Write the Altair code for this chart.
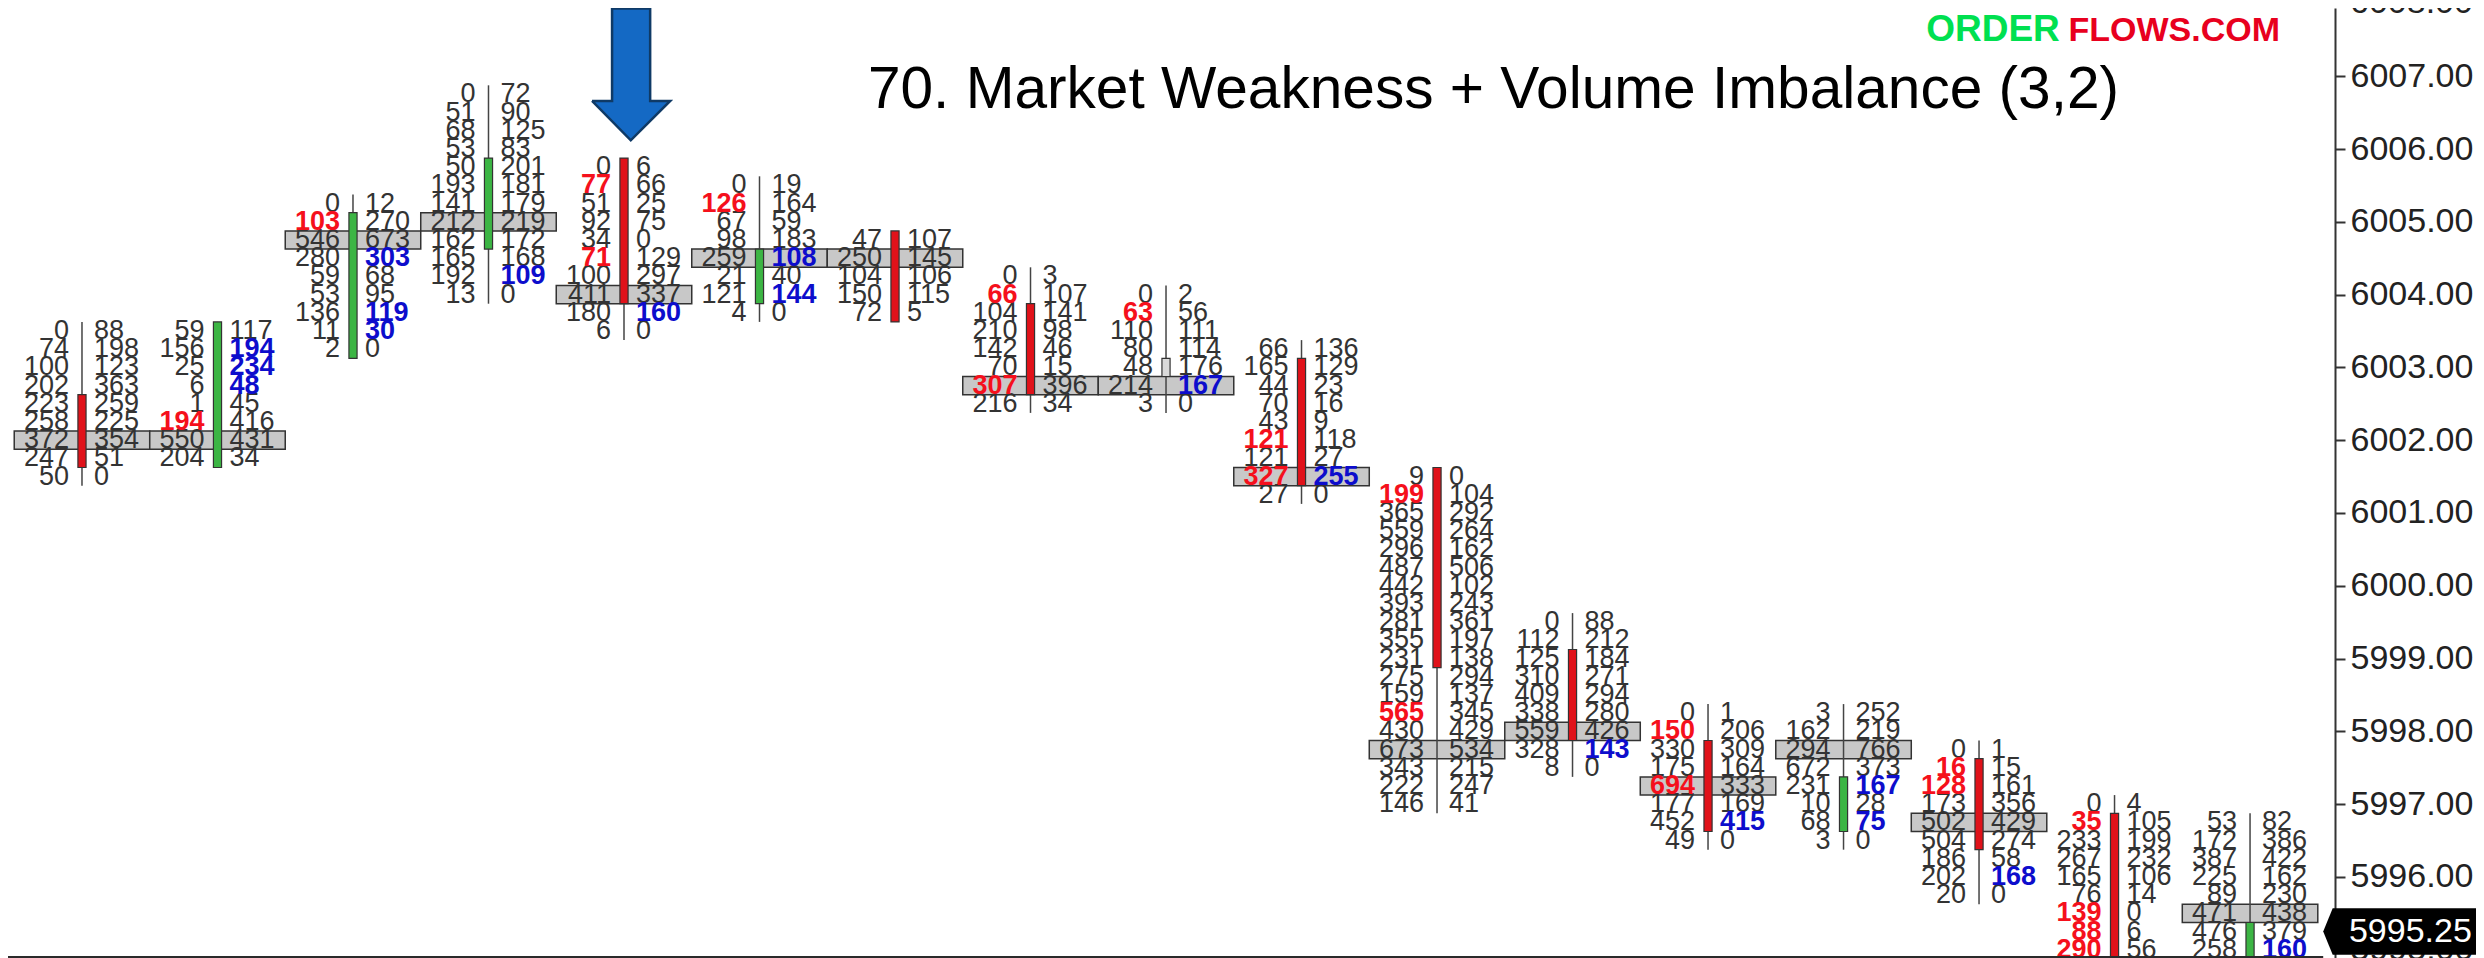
import altair as alt
import pandas as pd

alt.data_transformers.disable_max_rows()

# ---- footprint bars ----
tops = [6003.50, 6003.50, 6005.25, 6006.75, 6005.75, 6005.50, 6004.75, 6004.25, 6004.00,
        6003.25, 6001.50, 5999.50, 5998.25, 5998.25, 5997.75, 5997.00, 5996.75]
bids = [
    [0, 74, 100, 202, 223, 258, 372, 247, 50],
    [59, 156, 25, 6, 1, 194, 550, 204],
    [0, 103, 546, 280, 59, 53, 136, 11, 2],
    [0, 51, 68, 53, 50, 193, 141, 212, 162, 165, 192, 13],
    [0, 77, 51, 92, 34, 71, 100, 411, 180, 6],
    [0, 126, 67, 98, 259, 21, 121, 4],
    [47, 250, 104, 150, 72],
    [0, 66, 104, 210, 142, 70, 307, 216],
    [0, 63, 110, 80, 48, 214, 3],
    [66, 165, 44, 70, 43, 121, 121, 327, 27],
    [9, 199, 365, 559, 296, 487, 442, 393, 281, 355, 231, 275, 159, 565, 430, 673, 343, 222, 146],
    [0, 112, 125, 310, 409, 338, 559, 328, 8],
    [0, 150, 330, 175, 694, 177, 452, 49],
    [3, 162, 294, 672, 231, 10, 68, 3],
    [0, 16, 128, 173, 502, 504, 186, 202, 20],
    [0, 35, 233, 267, 165, 76, 139, 88, 290],
    [53, 172, 387, 225, 89, 471, 476, 258],
]
asks = [
    [88, 198, 123, 363, 259, 225, 354, 51, 0],
    [117, 194, 234, 48, 45, 416, 431, 34],
    [12, 270, 673, 303, 68, 95, 119, 30, 0],
    [72, 90, 125, 83, 201, 181, 179, 219, 172, 168, 109, 0],
    [6, 66, 25, 75, 0, 129, 297, 337, 160, 0],
    [19, 164, 59, 183, 108, 40, 144, 0],
    [107, 145, 106, 115, 5],
    [3, 107, 141, 98, 46, 15, 396, 34],
    [2, 56, 111, 114, 176, 167, 0],
    [136, 129, 23, 16, 9, 118, 27, 255, 0],
    [0, 104, 292, 264, 162, 506, 102, 243, 361, 197, 138, 294, 137, 345, 429, 534, 215, 247, 41],
    [88, 212, 184, 271, 294, 280, 426, 143, 0],
    [1, 206, 309, 164, 333, 169, 415, 0],
    [252, 219, 766, 373, 167, 28, 75, 0],
    [1, 15, 161, 356, 429, 274, 58, 168, 0],
    [4, 105, 199, 232, 106, 14, 0, 6, 56],
    [82, 386, 422, 162, 230, 438, 379, 160],
]
red_rows = [[], [5], [1], [], [1, 5], [1], [], [1, 6], [1], [5, 7], [1, 13], [], [1, 4], [], [1, 2], [1, 6, 7, 8], []]
blue_rows = [[], [1, 2, 3], [3, 6, 7], [10], [8], [4, 6], [], [], [5], [7], [], [7], [6], [4, 6], [7], [], [7]]
poc_prices = [6002.00, 6002.00, 6004.75, 6005.00, 6004.00, 6004.50, 6004.50, 6002.75, 6002.75,
              6001.50, 5997.75, 5998.00, 5997.25, 5997.75, 5996.75, None, 5995.50]
body_tops = [6002.50, 6003.50, 6005.00, 6005.75, 6005.75, 6004.50, 6004.75, 6003.75, 6003.00,
             6003.00, 6001.50, 5999.00, 5997.75, 5997.25, 5997.50, 5996.75, 5995.25]
body_bottoms = [6001.75, 6001.75, 6003.25, 6004.75, 6004.00, 6004.00, 6003.75, 6002.75, 6003.00,
                6001.50, 5999.00, 5998.00, 5996.75, 5996.75, 5996.50, 5994.75, 5994.75]
body_colors = ["#e0121a", "#3cb544", "#3cb544", "#3cb544", "#e0121a", "#3cb544", "#e0121a", "#e0121a", "#d9d9d9",
               "#e0121a", "#e0121a", "#e0121a", "#e0121a", "#3cb544", "#e0121a", "#e0121a", "#3cb544"]

axis_prices = [5995 + i for i in range(0, 13)]
last_price = 5995.25
title_text = "70. Market Weakness + Volume Imbalance (3,2)"

arrow_x = [3.764, 3.912, 3.912, 4.193, 4.193, 4.341, 4.05, 3.764]
arrow_y = [6006.66, 6006.66, 6007.93, 6007.93, 6006.66, 6006.66, 6006.12, 6006.66]
tag_x = [16.54, 16.61, 17.75]
tag_hi = [last_price, last_price + 0.32, last_price + 0.32]
tag_lo = [last_price, last_price - 0.32, last_price - 0.32]
base_price = 5994.90

TICK = 0.25
HALF = TICK / 2
X_DOM = [-0.546, 16.627]
Y_DOM = [5994.887, 6007.937]
x_s = alt.Scale(domain=X_DOM, nice=False, zero=False)
y_s = alt.Scale(domain=Y_DOM, nice=False, zero=False)
INK = "#333333"
RED = "#f5101c"
BLUE = "#0d0dcc"
FONT = "Liberation Sans"

rows, bars = [], []
for i, (top, bid, ask) in enumerate(zip(tops, bids, asks)):
    for r, (b, a) in enumerate(zip(bid, ask)):
        rows.append({"i": i, "price": top - r * TICK, "bid": str(b), "ask": str(a),
                     "bidhot": r in red_rows[i], "askhot": r in blue_rows[i]})
    low = top - (len(bid) - 1) * TICK
    if body_bottoms[i] < low:
        low = body_bottoms[i]
    bars.append({"i": i, "l": i - 0.03, "r": i + 0.03, "left": i - 0.5, "right": i + 0.5,
                 "hi": top + HALF, "lo": low - HALF,
                 "bt": body_tops[i] + HALF, "bb": body_bottoms[i] - HALF, "col": body_colors[i],
                 "poc_hi": None if poc_prices[i] is None else poc_prices[i] + HALF,
                 "poc_lo": None if poc_prices[i] is None else poc_prices[i] - HALF})
rows = pd.DataFrame(rows)
bars = pd.DataFrame(bars)
pocs = bars.dropna(subset=["poc_hi"])


def XQ(f):
    return alt.X(f, scale=x_s, axis=None)


def YQ(f):
    return alt.Y(f, scale=y_s, title=None)


Yp = alt.Y("price:Q", scale=y_s, title=None,
           axis=alt.Axis(orient="right", values=axis_prices, format=".2f", grid=False,
                         labelFontSize=34, labelFont=FONT, labelColor="#222222", labelPadding=5,
                         tickSize=10, tickWidth=2, tickColor=INK, domainColor=INK, domainWidth=2,
                         labelOverlap=False, labelFlush=False))

price_axis = alt.Chart(pd.DataFrame({"price": axis_prices})).mark_point(opacity=0).encode(
    x=alt.value(0), y=Yp)
poc = alt.Chart(pocs).mark_rect(fill="#c8c8c8", stroke=INK, strokeWidth=1.5, clip=True).encode(
    x=XQ("left:Q"), x2="right:Q", y=YQ("poc_hi:Q"), y2="poc_lo:Q")
wick = alt.Chart(bars).mark_rule(color="#444444", strokeWidth=1.5, clip=True).encode(
    x=XQ("i:Q"), y=YQ("hi:Q"), y2="lo:Q")
body = alt.Chart(bars).mark_rect(stroke=INK, strokeWidth=1.2, clip=True).encode(
    x=XQ("l:Q"), x2="r:Q", y=YQ("bt:Q"), y2="bb:Q", fill=alt.Fill("col:N", scale=None))


def num(field, hot, side):
    frame = rows[rows[field + "hot"] == hot]
    kw = dict(fontSize=27, font=FONT, baseline="middle", clip=True)
    kw["align"] = "right" if side == "bid" else "left"
    kw["dx"] = -13 if side == "bid" else 12
    if hot:
        kw["fontWeight"] = "bold"
        kw["color"] = RED if side == "bid" else BLUE
    else:
        kw["color"] = INK
    return alt.Chart(frame).mark_text(**kw).encode(x=XQ("i:Q"), y=YQ("price:Q"), text=f"{field}:N")


top_label = alt.Chart(pd.DataFrame({"price": [6008.0], "t": ["6008.00"]})).mark_text(
    fontSize=34, font=FONT, color="#222222", align="left", baseline="middle", clip=False
).encode(x=alt.value(2342), y=YQ("price:Q"), text="t:N")

arrow = alt.Chart(pd.DataFrame({"x": arrow_x, "y": arrow_y, "o": range(len(arrow_x))})).mark_line(
    fill="#1469c4", stroke="#0f3a66", strokeWidth=2.5, interpolate="linear", clip=False
).encode(x=XQ("x:Q"), y=YQ("y:Q"), order="o:Q")

title = alt.Chart(pd.DataFrame({"x": [5.80], "y": [6006.81], "t": [title_text]})).mark_text(
    fontSize=58.6, font=FONT, color="#000000", align="left", baseline="middle"
).encode(x=XQ("x:Q"), y=YQ("y:Q"), text="t:N")

logo_a = alt.Chart(pd.DataFrame({"x": [13.61], "y": [6007.48], "t": ["ORDER"]})).mark_text(
    fontSize=37, font=FONT, fontWeight="bold", color="#00e050", align="left", baseline="alphabetic"
).encode(x=XQ("x:Q"), y=YQ("y:Q"), text="t:N")
logo_b = alt.Chart(pd.DataFrame({"x": [14.66], "y": [6007.48], "t": ["FLOWS.COM"]})).mark_text(
    fontSize=34, font=FONT, fontWeight="bold", color="#e8001e", align="left", baseline="alphabetic"
).encode(x=XQ("x:Q"), y=YQ("y:Q"), text="t:N")

base = alt.Chart(pd.DataFrame({"y": [base_price], "a": [X_DOM[0]], "b": [16.54]})).mark_rule(
    color="#2a2a2a", strokeWidth=2, clip=False
).encode(x=XQ("a:Q"), x2="b:Q", y=YQ("y:Q"))

tag = alt.Chart(pd.DataFrame({"x": tag_x, "hi": tag_hi, "lo": tag_lo})).mark_area(
    color="#000000", clip=False, interpolate="linear"
).encode(x=XQ("x:Q"), y=YQ("hi:Q"), y2="lo:Q")
tag_text = alt.Chart(pd.DataFrame({"x": [16.73], "y": [last_price], "t": [f"{last_price:.2f}"]})).mark_text(
    fontSize=34, font=FONT, color="#ffffff", align="left", baseline="middle", clip=False
).encode(x=XQ("x:Q"), y=YQ("y:Q"), text="t:N")

chart = alt.layer(
    price_axis, poc, wick, body,
    num("bid", False, "bid"), num("ask", False, "ask"), num("bid", True, "bid"), num("ask", True, "ask"),
    base, arrow, title, logo_a, logo_b, top_label, tag, tag_text
).resolve_scale(x="shared", y="shared").properties(
    width=2327, height=950,
    padding={"left": 0, "top": 0, "right": 141, "bottom": 0},
    autosize=alt.AutoSizeParams(type="none"),
    background="#ffffff",
).configure_view(stroke=None)

chart.save("out.html", embed_options={"renderer": "svg", "actions": False})
